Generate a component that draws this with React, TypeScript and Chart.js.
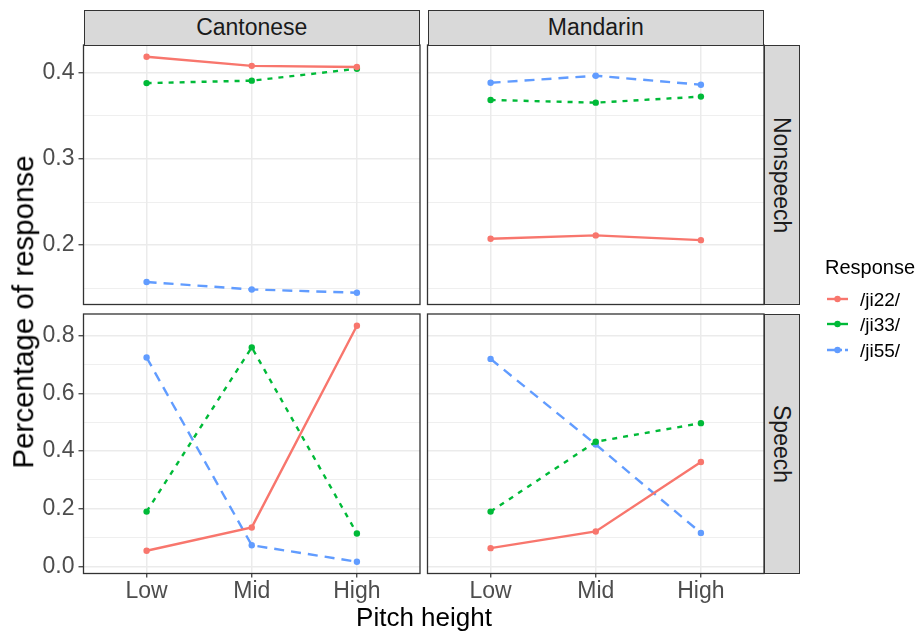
import React, { useEffect, useRef } from "react";
import { Chart, registerables } from "chart.js";
Chart.register(...registerables);

// ---- data ----
const pitchLevels = ["Low", "Mid", "High"];
const responses = ["/ji22/", "/ji33/", "/ji55/"];
const languages = ["Cantonese", "Mandarin"];
const conditions = ["Nonspeech", "Speech"];

const cantoneseNonspeechJi22 = [0.4185, 0.408, 0.4066];
const cantoneseNonspeechJi33 = [0.388, 0.3908, 0.4046];
const cantoneseNonspeechJi55 = [0.1572, 0.1486, 0.1448];

const mandarinNonspeechJi22 = [0.2074, 0.2113, 0.2058];
const mandarinNonspeechJi33 = [0.3684, 0.3653, 0.3723];
const mandarinNonspeechJi55 = [0.3884, 0.3965, 0.3861];

const cantoneseSpeechJi22 = [0.054, 0.135, 0.835];
const cantoneseSpeechJi33 = [0.19, 0.76, 0.114];
const cantoneseSpeechJi55 = [0.725, 0.073, 0.016];

const mandarinSpeechJi22 = [0.063, 0.121, 0.362];
const mandarinSpeechJi33 = [0.19, 0.4325, 0.497];
const mandarinSpeechJi55 = [0.72, 0.423, 0.116];

const nonspeechMajorTicks = [0.2, 0.3, 0.4];
const nonspeechMinorTicks = [0.15, 0.25, 0.35];
const speechMajorTicks = [0.0, 0.2, 0.4, 0.6, 0.8];
const speechMinorTicks = [0.1, 0.3, 0.5, 0.7];

// ---- styles ----
const colors = ["#F8766D", "#00BA38", "#619CFF"];
const dashes = [[], [5, 6], [10, 7]];
const legendDash = ["", "", "15 3"];
const FONT = "'Liberation Sans', Arial, sans-serif";

const W = 919;
const H = 632;
const colX = [83.5, 427.5];
const panelW = 336.5;
const rowY = [45, 314];
const panelH = 259.5;
const xAxisH = 30;

function rangeOf(groups: number[][][]) {
  const all = groups.flat(2);
  const mn = Math.min(...all);
  const mx = Math.max(...all);
  const e = (mx - mn) * 0.05;
  return [mn - e, mx + e];
}

const borderPlugin = {
  id: "panelBorder",
  afterDraw(chart: any) {
    const { left, top, right, bottom } = chart.chartArea;
    const ctx = chart.ctx;
    ctx.save();
    ctx.strokeStyle = "#333333";
    ctx.lineWidth = 1.3;
    ctx.strokeRect(left, top, right - left, bottom - top);
    ctx.restore();
  },
};

function makeConfig(
  series: number[][],
  yr: number[],
  major: number[],
  minor: number[],
  col: number,
  row: number
) {
  const showX = row === 1;
  const showY = col === 0;
  const left = colX[col];
  const top = rowY[row];
  const right = left + panelW;
  const bottom = top + panelH;
  const isMinor = (v: number) => minor.some((m) => Math.abs(m - v) < 1e-9);
  const allY = [...major, ...minor].sort((a, b) => a - b);
  return {
    type: "line",
    data: {
      datasets: series.map((vals, i) => ({
        label: responses[i],
        data: vals.map((v, j) => ({ x: j, y: v })),
        borderColor: colors[i],
        backgroundColor: colors[i],
        borderDash: dashes[i],
        borderWidth: 2.4,
        pointRadius: 3.2,
        pointBorderWidth: 0,
        pointHoverRadius: 3.2,
        tension: 0,
        fill: false,
      })),
    },
    options: {
      responsive: false,
      animation: false,
      events: [],
      layout: {
        padding: {
          left: showY ? 0 : left,
          top: top,
          right: W - right,
          bottom: H - bottom - (showX ? xAxisH : 0),
        },
      },
      plugins: { legend: { display: false }, tooltip: { enabled: false } },
      scales: {
        x: {
          type: "linear",
          min: -0.6,
          max: 2.6,
          afterBuildTicks: (s: any) => {
            s.ticks = pitchLevels.map((_, i) => ({ value: i }));
          },
          afterFit: (s: any) => {
            s.height = showX ? xAxisH : 0;
          },
          ticks: {
            display: showX,
            autoSkip: false,
            maxRotation: 0,
            padding: 0,
            color: "#4D4D4D",
            font: { family: FONT, size: 23 },
            callback: (v: number) => pitchLevels[Math.round(v)],
          },
          grid: {
            color: "#EBEBEB",
            lineWidth: 1.5,
            drawTicks: showX,
            tickLength: 4,
            tickColor: "#333333",
            tickWidth: 1.2,
          },
          border: { display: false },
        },
        y: {
          type: "linear",
          min: yr[0],
          max: yr[1],
          afterBuildTicks: (s: any) => {
            s.ticks = allY.map((v) => ({ value: v }));
          },
          afterFit: (s: any) => {
            s.width = showY ? left : 0;
          },
          ticks: {
            display: showY,
            autoSkip: false,
            padding: 4,
            color: "#4D4D4D",
            font: { family: FONT, size: 23 },
            callback: (v: number) => (isMinor(v) ? "" : v.toFixed(1)),
          },
          grid: {
            color: "#EBEBEB",
            lineWidth: (c: any) => (c.tick && isMinor(c.tick.value) ? 0.8 : 1.5),
            drawTicks: showY,
            tickLength: 5,
            tickColor: (c: any) =>
              c.tick && isMinor(c.tick.value) ? "rgba(0,0,0,0)" : "#333333",
            tickWidth: 1.2,
          },
          border: { display: false },
        },
      },
    },
    plugins: [borderPlugin],
  };
}

export default function App() {
  const r00 = useRef<HTMLCanvasElement>(null);
  const r01 = useRef<HTMLCanvasElement>(null);
  const r10 = useRef<HTMLCanvasElement>(null);
  const r11 = useRef<HTMLCanvasElement>(null);

  useEffect(() => {
    const nonspeech = [
      [cantoneseNonspeechJi22, cantoneseNonspeechJi33, cantoneseNonspeechJi55],
      [mandarinNonspeechJi22, mandarinNonspeechJi33, mandarinNonspeechJi55],
    ];
    const speech = [
      [cantoneseSpeechJi22, cantoneseSpeechJi33, cantoneseSpeechJi55],
      [mandarinSpeechJi22, mandarinSpeechJi33, mandarinSpeechJi55],
    ];
    const nsR = rangeOf(nonspeech);
    const spR = rangeOf(speech);
    const charts = [
      new Chart(r00.current as any, makeConfig(nonspeech[0], nsR, nonspeechMajorTicks, nonspeechMinorTicks, 0, 0) as any),
      new Chart(r01.current as any, makeConfig(nonspeech[1], nsR, nonspeechMajorTicks, nonspeechMinorTicks, 1, 0) as any),
      new Chart(r10.current as any, makeConfig(speech[0], spR, speechMajorTicks, speechMinorTicks, 0, 1) as any),
      new Chart(r11.current as any, makeConfig(speech[1], spR, speechMajorTicks, speechMinorTicks, 1, 1) as any),
    ];
    return () => charts.forEach((c) => c.destroy());
  }, []);

  const canvasStyle: React.CSSProperties = { position: "absolute", left: 0, top: 0, width: W, height: H };
  const stripBase: React.CSSProperties = {
    position: "absolute",
    boxSizing: "border-box",
    background: "#D9D9D9",
    border: "1.3px solid #333333",
    color: "#1A1A1A",
    fontFamily: FONT,
    fontSize: 23,
    display: "flex",
    alignItems: "center",
    justifyContent: "center",
    whiteSpace: "nowrap",
  };

  return (
    <div style={{ position: "absolute", left: 0, top: 0, width: W, height: H, background: "#fff", overflow: "hidden" }}>
      <canvas ref={r00} width={W} height={H} style={canvasStyle} />
      <canvas ref={r01} width={W} height={H} style={canvasStyle} />
      <canvas ref={r10} width={W} height={H} style={canvasStyle} />
      <canvas ref={r11} width={W} height={H} style={canvasStyle} />

      {languages.map((l, i) => (
        <div key={l} style={{ ...stripBase, left: colX[i], top: 10, width: panelW, height: 35.5 }}>
          {l}
        </div>
      ))}
      {conditions.map((c, i) => (
        <div
          key={c}
          style={{
            ...stripBase,
            left: colX[1] + panelW,
            top: rowY[i],
            width: 35.5,
            height: panelH,
          }}
        >
          <span style={{ writingMode: "vertical-rl" as any }}>{c}</span>
        </div>
      ))}

      <div
        style={{
          position: "absolute",
          left: 23,
          top: 312,
          transform: "translate(-50%, -50%) rotate(-90deg)",
          fontFamily: FONT,
          fontSize: 29.5,
          lineHeight: 1,
          whiteSpace: "nowrap",
          color: "#000",
        }}
      >
        Percentage of response
      </div>
      <div
        style={{
          position: "absolute",
          left: 424,
          top: 617,
          transform: "translate(-50%, -50%)",
          fontFamily: FONT,
          fontSize: 26,
          lineHeight: 1,
          whiteSpace: "nowrap",
          color: "#000",
        }}
      >
        Pitch height
      </div>

      <div
        style={{
          position: "absolute",
          left: 825,
          top: 266.5,
          transform: "translate(0, -50%)",
          fontFamily: FONT,
          fontSize: 20,
          lineHeight: 1,
          color: "#000",
          whiteSpace: "nowrap",
        }}
      >
        Response
      </div>
      {responses.map((r, i) => {
        const cy = [298.5, 323.5, 349.5][i];
        return (
          <React.Fragment key={r}>
            <svg style={{ position: "absolute", left: 824, top: cy - 6 }} width={28} height={12}>
              <line x1={3} y1={6} x2={24} y2={6} stroke={colors[i]} strokeWidth={2.4} strokeDasharray={legendDash[i] || undefined} />
              <circle cx={13.5} cy={6} r={3.2} fill={colors[i]} />
            </svg>
            <div
              style={{
                position: "absolute",
                left: 860,
                top: cy,
                transform: "translate(0, -50%)",
                fontFamily: FONT,
                fontSize: 19,
                lineHeight: 1,
                color: "#000",
                whiteSpace: "nowrap",
              }}
            >
              {r}
            </div>
          </React.Fragment>
        );
      })}
    </div>
  );
}
